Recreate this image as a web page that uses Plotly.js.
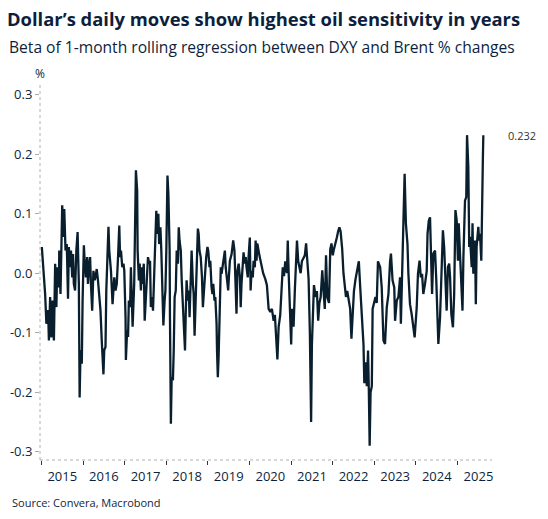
<!DOCTYPE html>
<html>
<head>
<meta charset="utf-8">
<script src="https://cdn.plot.ly/plotly-3.0.1.min.js"></script>
<style>
  html, body { margin: 0; padding: 0; background: #fff; }
  #chart { width: 548px; height: 519px; }
</style>
</head>
<body>
<div id="chart"></div>
<script>
// Decimal year and rolling beta (DXY vs Brent % changes)
const years = [
  2015.01, 2015.06, 2015.09, 2015.12, 2015.16, 2015.18, 2015.21, 2015.24, 2015.27, 2015.30,
  2015.33, 2015.36, 2015.38, 2015.42, 2015.43, 2015.46, 2015.50, 2015.53, 2015.55, 2015.58,
  2015.61, 2015.64, 2015.66, 2015.69, 2015.71, 2015.74, 2015.76, 2015.78, 2015.81, 2015.84,
  2015.87, 2015.90, 2015.92, 2015.94, 2015.97, 2015.99, 2016.02, 2016.04, 2016.07, 2016.10,
  2016.12, 2016.14, 2016.17, 2016.19, 2016.22, 2016.25, 2016.28, 2016.30, 2016.33, 2016.36,
  2016.39, 2016.42, 2016.45, 2016.47, 2016.49, 2016.51, 2016.54, 2016.56, 2016.58, 2016.61,
  2016.63, 2016.67, 2016.71, 2016.75, 2016.78, 2016.81, 2016.84, 2016.87, 2016.89, 2016.91,
  2016.94, 2016.97, 2016.99, 2017.02, 2017.03, 2017.06, 2017.08, 2017.10, 2017.13, 2017.15,
  2017.18, 2017.19, 2017.23, 2017.25, 2017.27, 2017.30, 2017.31, 2017.34, 2017.36, 2017.39,
  2017.41, 2017.43, 2017.46, 2017.48, 2017.51, 2017.53, 2017.56, 2017.59, 2017.61, 2017.63,
  2017.66, 2017.68, 2017.71, 2017.74, 2017.76, 2017.79, 2017.81, 2017.83, 2017.86, 2017.88,
  2017.91, 2017.93, 2017.96, 2017.98, 2018.00, 2018.03, 2018.05, 2018.08, 2018.09, 2018.11,
  2018.13, 2018.16, 2018.18, 2018.20, 2018.23, 2018.25, 2018.28, 2018.30, 2018.32, 2018.35,
  2018.37, 2018.40, 2018.43, 2018.45, 2018.47, 2018.49, 2018.52, 2018.54, 2018.56, 2018.59,
  2018.61, 2018.64, 2018.66, 2018.68, 2018.71, 2018.73, 2018.76, 2018.78, 2018.80, 2018.83,
  2018.86, 2018.88, 2018.91, 2018.93, 2018.96, 2018.99, 2019.01, 2019.04, 2019.06, 2019.09,
  2019.11, 2019.13, 2019.16, 2019.18, 2019.21, 2019.22, 2019.24, 2019.26, 2019.29, 2019.31,
  2019.33, 2019.36, 2019.38, 2019.41, 2019.43, 2019.46, 2019.49, 2019.51, 2019.53, 2019.57,
  2019.59, 2019.61, 2019.64, 2019.66, 2019.69, 2019.71, 2019.74, 2019.77, 2019.79, 2019.81,
  2019.84, 2019.86, 2019.89, 2019.91, 2019.93, 2019.96, 2019.98, 2020.01, 2020.03, 2020.05,
  2020.08, 2020.10, 2020.13, 2020.15, 2020.17, 2020.19, 2020.24, 2020.29, 2020.33, 2020.38,
  2020.42, 2020.46, 2020.50, 2020.54, 2020.58, 2020.61, 2020.64, 2020.67, 2020.70, 2020.74,
  2020.77, 2020.80, 2020.83, 2020.86, 2020.90, 2020.92, 2020.94, 2020.97, 2021.00, 2021.02,
  2021.06, 2021.09, 2021.11, 2021.14, 2021.17, 2021.20, 2021.23, 2021.26, 2021.30, 2021.33,
  2021.36, 2021.39, 2021.42, 2021.45, 2021.48, 2021.50, 2021.53, 2021.55, 2021.59, 2021.62,
  2021.65, 2021.68, 2021.71, 2021.75, 2021.78, 2021.81, 2021.84, 2021.87, 2021.91, 2021.94,
  2021.97, 2022.00, 2022.03, 2022.07, 2022.10, 2022.13, 2022.16, 2022.19, 2022.23, 2022.26,
  2022.29, 2022.32, 2022.35, 2022.39, 2022.42, 2022.45, 2022.48, 2022.51, 2022.55, 2022.58,
  2022.61, 2022.63, 2022.66, 2022.68, 2022.71, 2022.74, 2022.76, 2022.79, 2022.82, 2022.85,
  2022.87, 2022.89, 2022.91, 2022.94, 2022.96, 2022.99, 2023.03, 2023.06, 2023.09, 2023.14,
  2023.18, 2023.22, 2023.26, 2023.30, 2023.34, 2023.38, 2023.40, 2023.44, 2023.48, 2023.50,
  2023.54, 2023.58, 2023.62, 2023.64, 2023.68, 2023.70, 2023.73, 2023.76, 2023.80, 2023.82,
  2023.86, 2023.90, 2023.94, 2023.97, 2024.02, 2024.05, 2024.09, 2024.12, 2024.15, 2024.18,
  2024.22, 2024.26, 2024.28, 2024.31, 2024.34, 2024.37, 2024.39, 2024.42, 2024.46, 2024.49,
  2024.52, 2024.54, 2024.58, 2024.61, 2024.65, 2024.68, 2024.71, 2024.74, 2024.77, 2024.80,
  2024.82, 2024.85, 2024.89, 2024.92, 2024.95, 2024.98, 2025.01, 2025.03, 2025.06, 2025.09,
  2025.12, 2025.14, 2025.18, 2025.21, 2025.23, 2025.26, 2025.28, 2025.30, 2025.34, 2025.36,
  2025.38, 2025.42, 2025.44, 2025.46, 2025.50, 2025.52, 2025.54, 2025.57, 2025.59, 2025.61,
  2025.62
];

const beta = [
  0.044, -0.007, -0.035, -0.085, -0.062, -0.113, -0.040, -0.108, -0.046, -0.113,
  0.016, -0.057, 0.010, -0.024, 0.038, -0.035, 0.114, 0.061, 0.108, 0.038,
  0.049, -0.043, 0.044, 0.010, 0.038, -0.007, 0.032, -0.018, -0.029, 0.038,
  0.069, -0.018, -0.209, -0.129, -0.152, -0.046, 0.047, 0.021, -0.007, 0.027,
  -0.018, 0.010, 0.027, -0.018, -0.063, 0.004, -0.012, -0.007, 0.007, -0.012,
  -0.035, -0.063, -0.113, -0.135, -0.170, -0.129, -0.124, -0.029, 0.027, 0.078,
  0.038, 0.004, -0.052, -0.007, -0.029, -0.018, 0.027, 0.080, 0.027, 0.038,
  0.010, 0.016, 0.004, -0.074, -0.146, -0.096, -0.107, -0.046, -0.057, 0.010,
  -0.063, -0.090, -0.018, 0.094, 0.173, 0.139, 0.038, -0.012, 0.016, -0.029,
  0.010, -0.018, 0.016, -0.080, -0.041, 0.004, 0.027, 0.016, 0.021, -0.057,
  -0.040, -0.063, -0.007, 0.072, 0.105, 0.066, 0.100, 0.049, 0.077, 0.038,
  -0.029, -0.088, -0.046, -0.029, 0.038, 0.164, 0.133, 0.038, -0.074, -0.253,
  -0.175, -0.180, -0.130, -0.040, -0.029, 0.038, 0.016, 0.077, 0.055, 0.038,
  -0.012, -0.063, -0.085, -0.130, -0.063, -0.012, -0.046, -0.029, -0.074, -0.007,
  0.038, -0.018, -0.035, -0.105, -0.040, 0.038, 0.075, 0.066, 0.038, 0.027,
  -0.007, -0.057, -0.018, 0.004, 0.027, 0.044, 0.038, 0.010, 0.021, -0.024,
  -0.035, -0.018, -0.046, -0.040, -0.085, -0.130, -0.175, -0.141, -0.074, 0.010,
  -0.001, 0.016, 0.027, 0.038, 0.010, -0.012, -0.029, -0.001, 0.021, 0.032,
  0.049, 0.055, 0.038, 0.004, -0.068, 0.004, 0.016, -0.007, -0.057, -0.018,
  0.016, 0.035, 0.016, 0.027, 0.010, -0.007, 0.027, 0.060, -0.029, 0.004,
  -0.007, 0.021, 0.010, 0.055, 0.021, 0.050, 0.030, 0.010, 0.000, -0.010,
  -0.020, -0.060, -0.065, -0.060, -0.080, -0.070, -0.100, -0.145, -0.090, -0.070,
  -0.030, 0.010, -0.005, 0.020, 0.000, 0.055, 0.000, -0.060, -0.120, -0.060,
  -0.090, -0.030, 0.010, 0.055, 0.020, 0.010, 0.000, 0.020, 0.025, 0.030,
  0.050, 0.020, -0.010, -0.100, -0.250, -0.120, -0.060, -0.020, -0.040, -0.030,
  -0.080, -0.050, -0.040, 0.005, -0.030, -0.060, 0.030, -0.040, -0.050, 0.040,
  0.050, 0.030, 0.040, 0.050, 0.060, 0.070, 0.077, 0.070, 0.040, 0.000,
  -0.020, -0.040, -0.030, -0.050, -0.060, -0.110, -0.060, -0.030, -0.010, 0.000,
  0.010, 0.020, -0.020, -0.045, -0.080, -0.120, -0.185, -0.150, -0.190, -0.130,
  -0.200, -0.290, -0.200, -0.190, -0.060, -0.050, -0.040, -0.050, 0.020, 0.010,
  -0.024, -0.113, -0.119, -0.058, -0.035, 0.019, 0.033, -0.012, -0.024, -0.080,
  -0.046, -0.040, -0.007, -0.085, 0.027, 0.122, 0.167, 0.084, 0.049, -0.001,
  -0.052, -0.069, -0.091, -0.108, -0.058, -0.001, 0.021, -0.007, -0.001, -0.035,
  -0.018, 0.004, 0.066, 0.088, 0.094, 0.010, -0.035, 0.033, 0.038, -0.012,
  -0.069, -0.119, -0.074, -0.012, 0.072, 0.044, -0.029, -0.063, 0.010, 0.016,
  -0.007, -0.069, -0.091, -0.035, 0.106, 0.089, 0.021, 0.084, 0.033, -0.012,
  -0.063, 0.027, 0.122, 0.128, 0.232, 0.179, 0.044, 0.061, 0.010, 0.084,
  -0.001, 0.055, -0.052, 0.044, 0.078, 0.055, 0.066, 0.021, 0.161, 0.195,
  0.232
];

const yTicks = [-0.3, -0.2, -0.1, 0.0, 0.1, 0.2, 0.3];
const yTickLabels = ["-0.3", "-0.2", "-0.1", "0.0", "0.1", "0.2", "0.3"];
const lastLabel = "0.232";

// decimal year -> ISO date string
function toDate(y) {
  const yr = Math.floor(y);
  const start = Date.UTC(yr, 0, 1);
  const end = Date.UTC(yr + 1, 0, 1);
  return new Date(start + (y - yr) * (end - start)).toISOString().slice(0, 10);
}

const navy = "#0d1f3c";
const font = "Open Sans, Noto Sans, sans-serif";

const trace = {
  x: years.map(toDate),
  y: beta,
  type: "scatter",
  mode: "lines",
  line: { color: "#0a1f2e", width: 2.3 },
  hoverinfo: "x+y"
};

const layout = {
  width: 548,
  height: 519,
  margin: { l: 40, r: 56, t: 84, b: 59 },
  paper_bgcolor: "#fff",
  plot_bgcolor: "#fff",
  showlegend: false,
  font: { family: font, color: navy, size: 13 },
  title: {
    text: "<b>Dollar\u2019s daily moves show highest oil sensitivity in years</b>",
    x: 7 / 548, xanchor: "left",
    y: 1 - 20 / 519, yanchor: "middle",
    font: { family: font, size: 18.4, color: navy }
  },
  xaxis: {
    type: "date",
    range: [toDate(2014.966), toDate(2025.83)],
    tick0: "2015-01-01",
    dtick: "M12",
    tickformat: "%Y",
    ticklabelmode: "period",
    ticks: "outside",
    ticklen: 4,
    tickwidth: 1,
    tickcolor: "#333",
    showgrid: false,
    zeroline: false,
    showline: false,
    tickfont: { size: 13, color: navy }
  },
  yaxis: {
    range: [-0.314, 0.318],
    tickvals: yTicks,
    ticktext: yTickLabels,
    ticks: "outside",
    ticklen: 4,
    tickcolor: "#aaa",
    showgrid: false,
    zeroline: false,
    showline: false,
    tickfont: { size: 13, color: navy }
  },
  shapes: [
    // dotted axis lines
    { type: "line", xref: "paper", yref: "paper", x0: 0, x1: 0, y0: 0, y1: 1,
      line: { color: "#b0b0b0", width: 1, dash: "dot" } },
    { type: "line", xref: "paper", yref: "paper", x0: 0, x1: 1, y0: 0, y1: 0,
      line: { color: "#b0b0b0", width: 1, dash: "dot" } }
  ],
  annotations: [
    { text: "Beta of 1-month rolling regression between DXY and Brent % changes",
      xref: "paper", yref: "paper", x: -33 / 452, y: (460 - 47) / 376,
      xanchor: "left", yanchor: "middle", showarrow: false,
      font: { family: font, size: 15.6, color: navy } },
    { text: "%", xref: "paper", yref: "paper", x: 0, y: (460 - 74) / 376,
      xanchor: "center", yanchor: "middle", showarrow: false,
      font: { size: 12, color: navy } },
    { text: lastLabel, xref: "paper", yref: "y", x: 1.03, y: beta[beta.length - 1],
      xanchor: "left", yanchor: "middle", showarrow: false,
      font: { size: 11, color: "#333" } },
    { text: "Source: Convera, Macrobond", xref: "paper", yref: "paper",
      x: -30 / 452, y: (460 - 502) / 376, xanchor: "left", yanchor: "middle",
      showarrow: false, font: { size: 11, color: navy } }
  ]
};

Plotly.newPlot("chart", [trace], layout, { displayModeBar: false, responsive: false });
</script>
</body>
</html>
